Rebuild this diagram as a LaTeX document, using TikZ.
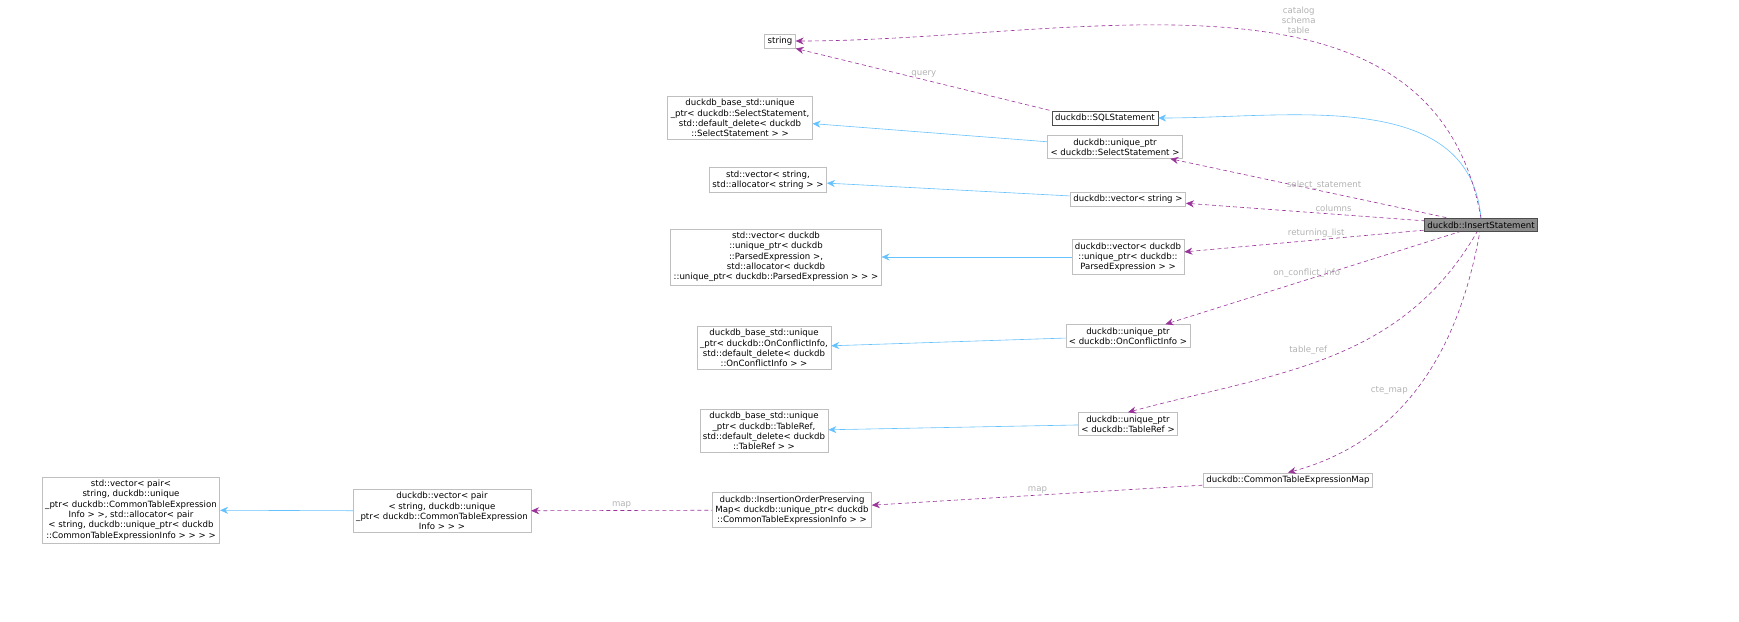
\documentclass[tikz,border=0pt]{standalone}
\usepackage{fontspec}
\setmainfont{DejaVu Sans}
\usetikzlibrary{arrows.meta}
\tikzset{
	box/.style={draw=black!25, fill=white, align=center, inner sep=1.5pt, line width=0.3pt, font=\fontsize{4.3}{5.15}\selectfont},
	inh/.style={draw=blue!40!cyan!60, line width=0.3pt, <-, >={Stealth[length=4pt,width=3.5pt]}},
	use/.style={draw=violet!80, line width=0.3pt, dash pattern=on 2pt off 1.5pt, <-, >={Stealth[length=4pt,width=3.5pt]}},
	lbl/.style={text=black!30, font=\fontsize{4.3}{5.15}\selectfont, align=center, inner sep=1pt}
}
\begin{document}
\begin{tikzpicture}[x=0.5pt,y=0.5pt]
	\useasboundingbox (0,0) rectangle (1739,-621);
	\node[box] (str) at (780,-41) {string};
	\node[box, draw=black!70] (sql) at (1105,-118) {duckdb::SQLStatement};
	\node[box] (bsel) at (740,-118) {duckdb\_base\_std::unique\\\_ptr< duckdb::SelectStatement,\\std::default\_delete< duckdb\\::SelectStatement > >};
	\node[box] (usel) at (1115,-147) {duckdb::unique\_ptr\\< duckdb::SelectStatement >};
	\node[box] (svec) at (768,-180) {std::vector< string,\\std::allocator< string > >};
	\node[box] (vstr) at (1128,-199) {duckdb::vector< string >};
	\node[box, fill=black!45, draw=black!70] (ins) at (1481,-225) {duckdb::InsertStatement};
	\node[box] (spe) at (776,-257) {std::vector< duckdb\\::unique\_ptr< duckdb\\::ParsedExpression >,\\std::allocator< duckdb\\::unique\_ptr< duckdb::ParsedExpression > > >};
	\node[box] (vpe) at (1128,-257) {duckdb::vector< duckdb\\::unique\_ptr< duckdb::\\ParsedExpression > >};
	\node[box] (bconf) at (764,-348) {duckdb\_base\_std::unique\\\_ptr< duckdb::OnConflictInfo,\\std::default\_delete< duckdb\\::OnConflictInfo > >};
	\node[box] (uconf) at (1128,-336) {duckdb::unique\_ptr\\< duckdb::OnConflictInfo >};
	\node[box] (bref) at (764,-431) {duckdb\_base\_std::unique\\\_ptr< duckdb::TableRef,\\std::default\_delete< duckdb\\::TableRef > >};
	\node[box] (uref) at (1128,-424) {duckdb::unique\_ptr\\< duckdb::TableRef >};
	\node[box] (cte) at (1288,-480) {duckdb::CommonTableExpressionMap};
	\node[box] (iop) at (792,-510) {duckdb::InsertionOrderPreserving\\Map< duckdb::unique\_ptr< duckdb\\::CommonTableExpressionInfo > >};
	\node[box] (vpair) at (442,-511) {duckdb::vector< pair\\< string, duckdb::unique\\\_ptr< duckdb::CommonTableExpression\\Info > > >};
	\node[box] (spair) at (131,-510) {std::vector< pair<\\string, duckdb::unique\\\_ptr< duckdb::CommonTableExpression\\Info > >, std::allocator< pair\\< string, duckdb::unique\_ptr< duckdb\\::CommonTableExpressionInfo > > > >};

	% inheritance
	\draw[inh] (sql.east) to[out=0, in=95] (ins.north);
	\draw[inh] (bsel) -- (usel);
	\draw[inh] (svec) -- (vstr);
	\draw[inh] (spe) -- (vpe);
	\draw[inh] (bconf) -- (uconf);
	\draw[inh] (bref) -- (uref);
	\draw[inh] (spair) -- (vpair);

	% members
	\draw[use] (str.east) to[out=0, in=100] node[lbl, pos=0.6, above=1pt] {catalog\\schema\\table} (ins.north);
	\draw[use] (str.south east) -- node[lbl, above] {query} (sql.north west);
	\draw[use] (usel) -- node[lbl, pos=0.55, above] {select\_statement} (ins);
	\draw[use] (vstr) -- node[lbl, pos=0.62, above] {columns} (ins);
	\draw[use] (vpe) -- node[lbl, pos=0.55, above] {returning\_list} (ins);
	\draw[use] (uconf) -- node[lbl, pos=0.48, above] {on\_conflict\_info} (ins);
	\draw[use] (uref.north) to[out=15, in=-120] node[lbl, pos=0.5, above left] {table\_ref} (ins);
	\draw[use] (cte.north) to[out=15, in=-100] node[lbl, pos=0.45, above left] {cte\_map} (ins);
	\draw[use] (iop) -- node[lbl, above] {map} (cte);
	\draw[use] (vpair) -- node[lbl, above] {map} (iop);
\end{tikzpicture}
\end{document}
